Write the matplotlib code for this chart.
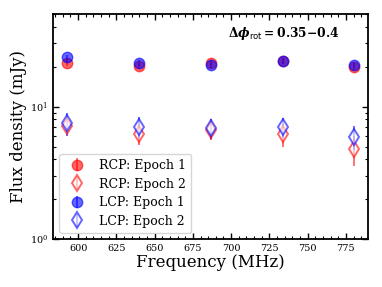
import numpy as np
import matplotlib
matplotlib.use('Agg')
import matplotlib.pyplot as plt

plt.rcParams['font.family'] = 'DejaVu Serif'
plt.rcParams['mathtext.fontset'] = 'dejavuserif'

# channel centre frequencies (MHz)
freq = np.array([593, 640, 687, 734, 780])

# epoch 1 (filled circles)
rcp1 = np.array([21.5, 20.3, 21.5, 22.0, 19.8])
rcp1_err = np.array([1.2, 1.1, 1.1, 1.1, 1.1])
lcp1 = np.array([23.5, 21.3, 20.7, 22.0, 20.6])
lcp1_err = np.array([1.2, 1.1, 1.1, 1.1, 1.1])

# epoch 2 (open diamonds)
rcp2 = np.array([7.2, 6.2, 6.7, 6.2, 4.75])
rcp2_err = np.array([0.8, 1.1, 1.1, 1.2, 1.2])
lcp2 = np.array([7.5, 7.0, 6.9, 7.0, 5.9])
lcp2_err = np.array([1.5, 1.3, 1.2, 1.2, 1.2])

fig = plt.figure(figsize=(3.82, 2.87), dpi=100)
ax = fig.add_axes([0.139, 0.167, 0.824, 0.784])

ax.errorbar(freq, rcp1, yerr=rcp1_err, fmt='o', color='red', alpha=0.6,
            ms=7.5, elinewidth=1.3, label='RCP: Epoch 1')
ax.errorbar(freq, rcp2, yerr=rcp2_err, fmt='d', color='red', mfc='white',
            alpha=0.6, ms=8, mew=1.4, elinewidth=1.3, label='RCP: Epoch 2')
ax.errorbar(freq, lcp1, yerr=lcp1_err, fmt='o', color='blue', alpha=0.6,
            ms=7.5, elinewidth=1.3, label='LCP: Epoch 1')
ax.errorbar(freq, lcp2, yerr=lcp2_err, fmt='d', color='blue', mfc='white',
            alpha=0.6, ms=8, mew=1.4, elinewidth=1.3, label='LCP: Epoch 2')

ax.set_yscale('log')
ax.set_ylim(1, 50)
ax.set_xticks(np.arange(600, 800, 25))
ax.xaxis.set_minor_locator(matplotlib.ticker.MultipleLocator(5))

ax.tick_params(which='both', direction='in', top=True, right=True, labelsize=7)
ax.tick_params(which='major', length=4, width=1)
ax.tick_params(which='minor', length=2.5, width=0.8)
for s in ax.spines.values():
    s.set_linewidth(1.3)

ax.set_xlabel('Frequency (MHz)', fontsize=12, labelpad=1)
ax.set_ylabel('Flux density (mJy)', fontsize=12, labelpad=2)

ax.text(0.555, 0.915, r'$\boldsymbol{\Delta\phi}_{\mathsf{rot}}\mathbf{=0.35{-}0.4}$',
        transform=ax.transAxes, fontsize=8.8, ha='left', va='center')

ax.legend(loc='lower left', fontsize=9, handletextpad=0.8, borderpad=0.4,
          labelspacing=0.45)

fig.savefig('out.png', dpi=100)
